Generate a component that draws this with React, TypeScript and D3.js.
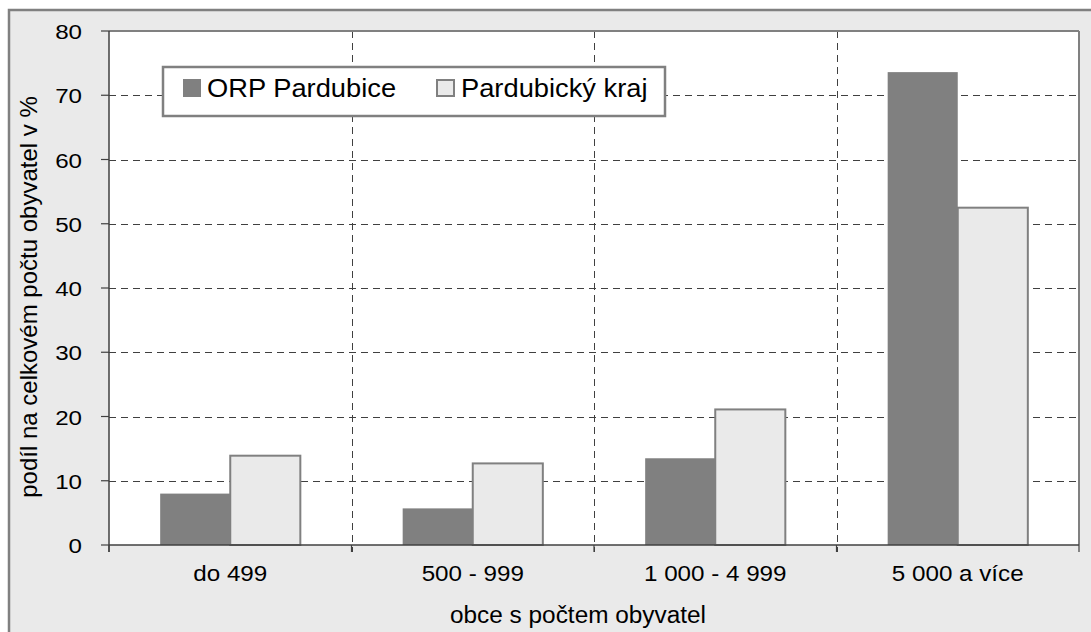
import * as d3 from 'd3'
import React from 'react'

const categories = ['do 499', '500 - 999', '1 000 - 4 999', '5 000 a více']
const seriesNames = ['ORP Pardubice', 'Pardubický kraj']
const orpValues = [8.0, 5.7, 13.5, 73.6]
const krajValues = [13.9, 12.7, 21.1, 52.5]
const yTicks = [0, 10, 20, 30, 40, 50, 60, 70, 80]

const FONT = '"Liberation Sans", Arial, sans-serif'
const DARK = '#808080'
const LIGHT = '#eaeaea'
const LINE = '#404040'

// stretched text, the reference is wider than it is tall
function SText(props: {
  x: number
  y: number
  size: number
  sx: number
  anchor?: string
  children: React.ReactNode
}) {
  return (
    <text
      transform={`translate(${props.x},${props.y}) scale(${props.sx},1)`}
      fontSize={props.size}
      fontFamily={FONT}
      textAnchor={props.anchor || 'start'}
      fill="#000"
    >
      {props.children}
    </text>
  )
}

export default function App() {
  const left = 109
  const right = 1079
  const top = 31
  const bottom = 545

  const y = d3.scaleLinear().domain([0, 80]).range([bottom, top])
  const x0 = d3.scaleBand<string>().domain(categories).range([left, right]).padding(0)
  const groupW = x0.bandwidth() * 0.578
  const x1 = d3.scaleBand<string>().domain(seriesNames).range([0, groupW]).padding(0)

  const series = [
    { name: seriesNames[0], values: orpValues, fill: DARK, stroke: DARK },
    { name: seriesNames[1], values: krajValues, fill: LIGHT, stroke: DARK },
  ]

  const boundaries = categories.map(c => x0(c)!).concat([right])

  return (
    <svg
      width={1091}
      height={632}
      style={{ position: 'absolute', left: 0, top: 0 }}
    >
      {/* chart area */}
      <rect x={9} y={10} width={1100} height={640} fill={LIGHT} stroke={DARK} strokeWidth={2.5} />
      {/* plot area */}
      <rect x={left} y={top} width={right - left} height={bottom - top} fill="#fff" />

      {/* horizontal grid */}
      {yTicks.slice(1).map(t => (
        <line
          key={'h' + t}
          x1={left}
          x2={right}
          y1={Math.round(y(t)) + 0.5}
          y2={Math.round(y(t)) + 0.5}
          stroke={LINE}
          strokeDasharray="7,5"
        />
      ))}
      {/* vertical grid at category boundaries */}
      {boundaries.slice(1, -1).map((b, i) => (
        <line
          key={'v' + i}
          x1={Math.round(b) + 0.5}
          x2={Math.round(b) + 0.5}
          y1={top}
          y2={bottom + 7}
          stroke={LINE}
          strokeDasharray="7,5"
        />
      ))}

      {/* bars */}
      {categories.map((c, i) => {
        const gx = x0(c)! + (x0.bandwidth() - groupW) / 2
        return series.map(s => {
          const bx = gx + x1(s.name)!
          const by = y(s.values[i])
          return (
            <rect
              key={c + s.name}
              x={bx}
              y={by}
              width={x1.bandwidth()}
              height={bottom - by}
              fill={s.fill}
              stroke={s.stroke}
              strokeWidth={s.fill === DARK ? 0 : 2}
            />
          )
        })
      })}

      {/* plot border top / right */}
      <line x1={left} x2={right} y1={top} y2={top} stroke={DARK} strokeWidth={2} />
      <line x1={right} x2={right} y1={top} y2={bottom} stroke={DARK} strokeWidth={2} />

      {/* y axis */}
      <line x1={left} x2={left} y1={top} y2={bottom + 7} stroke={LINE} strokeWidth={1.5} />
      {yTicks.map(t => (
        <g key={'yt' + t}>
          <line x1={left - 8} x2={left} y1={y(t)} y2={y(t)} stroke={LINE} strokeWidth={1.2} />
          <SText x={82} y={y(t) + 8} size={21} sx={1.15} anchor="end">
            {t}
          </SText>
        </g>
      ))}

      {/* x axis */}
      <line x1={left} x2={right} y1={bottom} y2={bottom} stroke={LINE} strokeWidth={1.5} />
      {boundaries.map((b, i) => (
        <line key={'xt' + i} x1={b} x2={b} y1={bottom} y2={bottom + 7} stroke={LINE} strokeWidth={1.2} />
      ))}
      {categories.map(c => (
        <SText key={'xl' + c} x={x0(c)! + x0.bandwidth() / 2} y={581} size={22} sx={1.1} anchor="middle">
          {c}
        </SText>
      ))}

      {/* axis titles */}
      <SText x={578} y={623} size={23} sx={1.06} anchor="middle">
        obce s počtem obyvatel
      </SText>
      <text
        transform="translate(37,297) rotate(-90)"
        fontSize={24}
        fontFamily={FONT}
        textAnchor="middle"
      >
        podíl na celkovém počtu obyvatel v %
      </text>

      {/* legend */}
      <rect x={163} y={67} width={502} height={49} fill="#fff" stroke={DARK} strokeWidth={2.5} />
      <rect x={183} y={79} width={18} height={18} fill={DARK} />
      <SText x={207} y={97} size={26} sx={1.05}>
        {seriesNames[0]}
      </SText>
      <rect x={437} y={80} width={17} height={16} fill={LIGHT} stroke={DARK} strokeWidth={2} />
      <SText x={461} y={97} size={26} sx={1.05}>
        {seriesNames[1]}
      </SText>
    </svg>
  )
}
